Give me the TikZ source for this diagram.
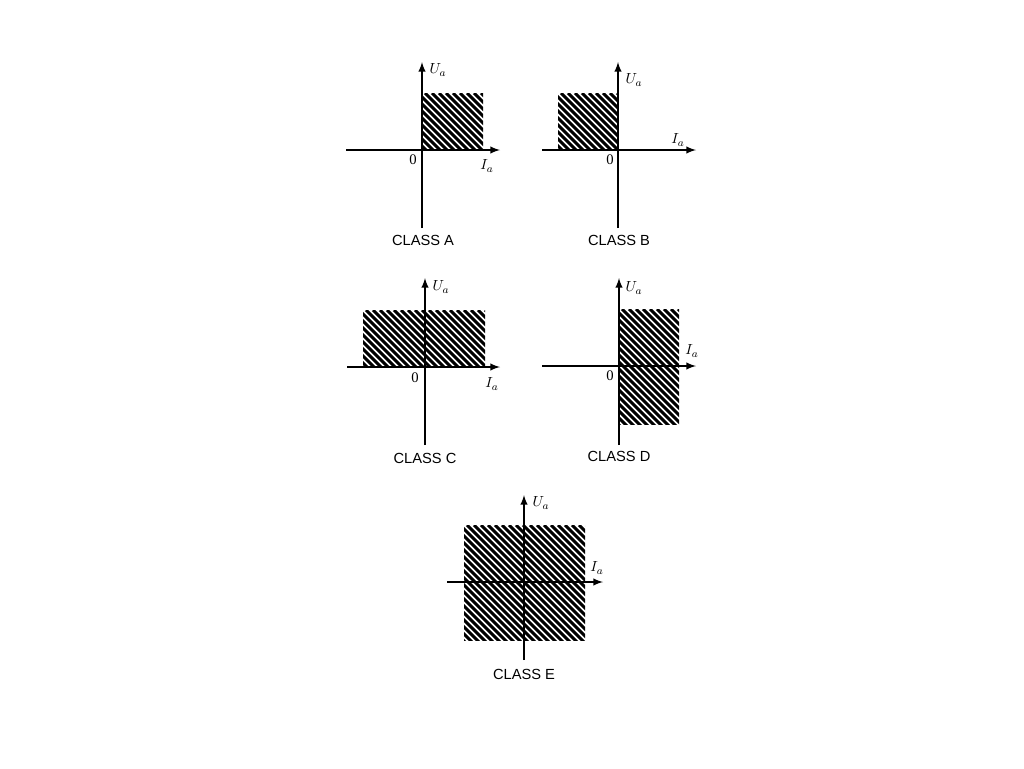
\documentclass[tikz,border=0pt]{standalone}
\usepackage{fontspec}
\setmainfont{Liberation Serif}
\newfontfamily\lsans{Liberation Sans}
\begin{document}
\begin{tikzpicture}[x=0.75pt,y=-0.75pt,
  ax/.style={line width=1.5pt,-latex},
  cls/.style={font=\lsans\fontsize{11}{13}\selectfont},
  lab/.style={font=\fontsize{11}{13}\selectfont},
  hatchl/.style={line width=2.2pt}]
\useasboundingbox (0,0) rectangle (1024,768);
\newcommand{\hatchrect}[4]{%
  \begin{scope}
  \clip (#1,#2) rectangle (#3,#4);
  \foreach \k in {-200,-193,...,200} {\draw[hatchl] (#1+\k,#2) -- (#1+\k+200,#2+200);}
  \end{scope}}
% A
\hatchrect{422}{93}{483}{150}
\coordinate (a0) at (422,150);
\draw[ax] (422,228) -- (422,62);
\draw[ax] (346,150) -- (500,150);
\node[lab] (aU) at (438,70) {$U_a$};
\node[lab] (aI) at (487,166) {$I_a$};
\node[lab] (aZ) at (413,160) {0};
\node[cls] (aC) at (423,240) {CLASS A};
% B
\hatchrect{558}{93}{618}{150}
\draw[ax] (618,228) -- (618,62);
\draw[ax] (542,150) -- (696,150);
\node[lab] (bU) at (634,80) {$U_a$};
\node[lab] (bI) at (678,140) {$I_a$};
\node[lab] (bZ) at (610,160) {0};
\node[cls] (bC) at (619,240) {CLASS B};
% C
\hatchrect{363}{310}{485}{367}
\draw[ax] (425,445) -- (425,278);
\draw[ax] (347,367) -- (500,367);
\node[lab] (cU) at (441,287) {$U_a$};
\node[lab] (cI) at (492,384) {$I_a$};
\node[lab] (cZ) at (415,378) {0};
\node[cls] (cC) at (425,458) {CLASS C};
% D
\hatchrect{619}{309}{679}{424}
\draw[ax] (619,445) -- (619,278);
\draw[ax] (542,366) -- (696,366);
\node[lab] (dU) at (634,288) {$U_a$};
\node[lab] (dI) at (692,351) {$I_a$};
\node[lab] (dZ) at (610,376) {0};
\node[cls] (dC) at (619,456) {CLASS D};
% E
\hatchrect{464}{525}{585}{640}
\draw[ax] (524,660) -- (524,495);
\draw[ax] (447,582) -- (603,582);
\node[lab] (eU) at (541,503) {$U_a$};
\node[lab] (eI) at (597,568) {$I_a$};
\node[cls] (eC) at (524,674) {CLASS E};
\end{tikzpicture}
\end{document}
